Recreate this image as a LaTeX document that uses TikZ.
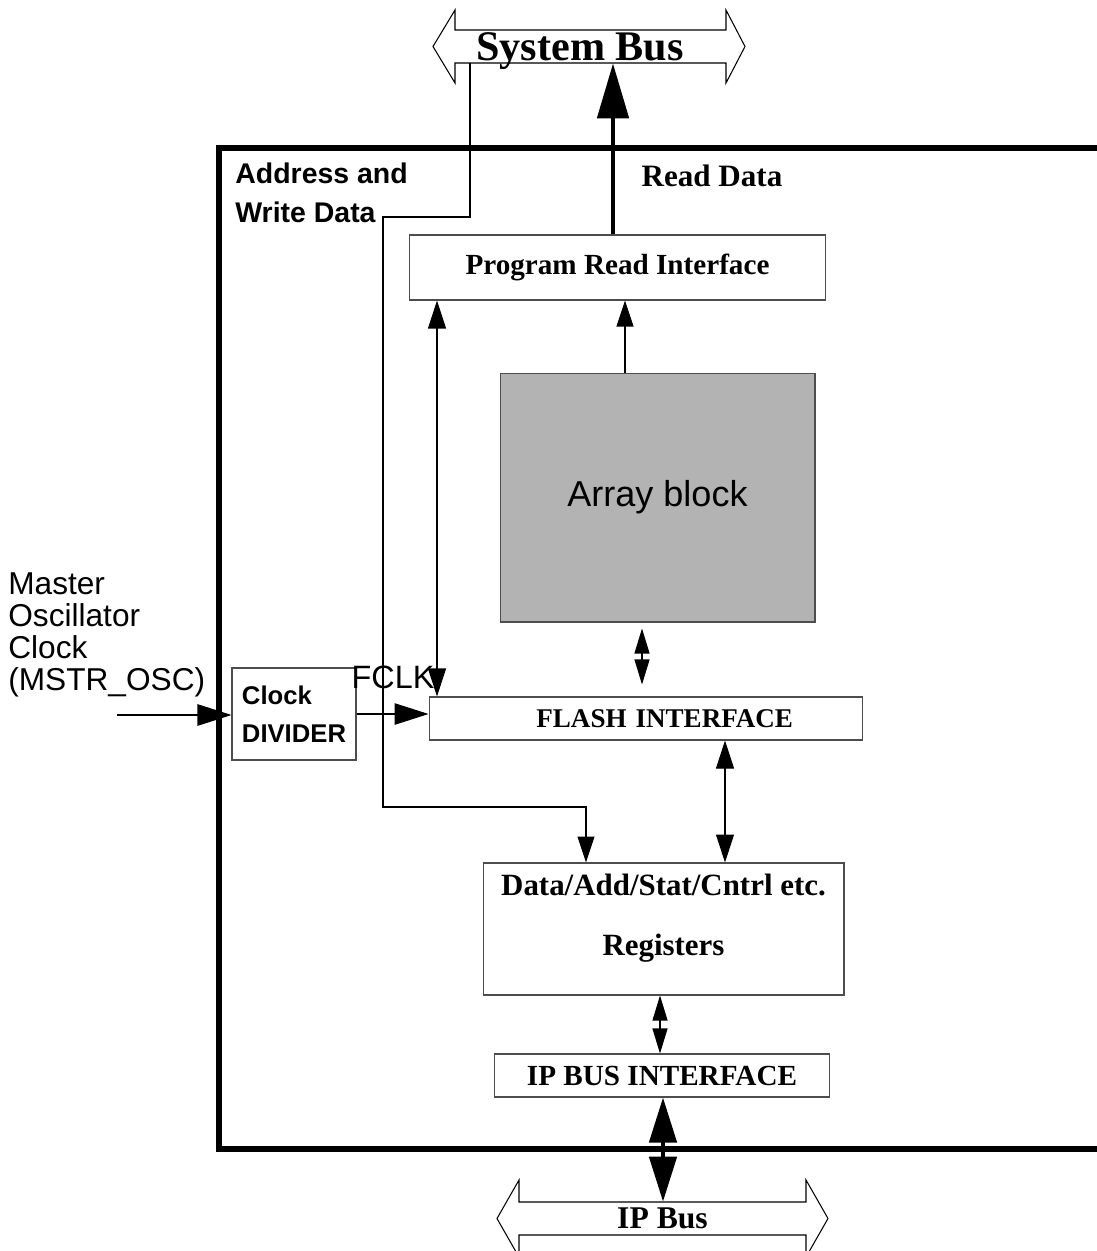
\documentclass[tikz,border=0pt]{standalone}
\usepackage{fontspec}
\setmainfont{Liberation Serif}
\setsansfont{Liberation Sans}
\usetikzlibrary{arrows.meta,positioning}
\definecolor{arraygray}{HTML}{B3B3B3}
\definecolor{boxline}{HTML}{4D4D4D}

\begin{document}
\begin{tikzpicture}[
    x=0.02cm, y=-0.02cm,
    box/.style={draw=boxline, line width=0.6pt, fill=white, inner sep=0pt, align=center},
    busfont/.style={font=\bfseries\fontsize{24}{28}\selectfont},
    boxfont/.style={font=\bfseries\fontsize{16.6}{20}\selectfont},
    sansbold/.style={font=\sffamily\bfseries\fontsize{16.2}{22}\selectfont},
    thinarrow/.style={line width=0.6pt, -{Triangle[length=0.52cm, width=0.34cm]}},
    thinboth/.style={line width=0.6pt, {Triangle[length=0.56cm, width=0.36cm]}-{Triangle[length=0.56cm, width=0.36cm]}},
    shortboth/.style={line width=0.6pt, {Triangle[length=0.5cm, width=0.3cm]}-{Triangle[length=0.5cm, width=0.3cm]}},
    clockarrow/.style={line width=0.6pt, -{Triangle[length=0.68cm, width=0.43cm]}},
    readarrow/.style={line width=2.8pt, -{Triangle[length=1.1cm, width=0.62cm]}},
    ipboth/.style={line width=2.6pt, {Triangle[length=0.9cm, width=0.54cm]}-{Triangle[length=0.9cm, width=0.54cm]}},
    frame/.style={line width=3.4pt},
    bus/.style={draw, line width=0.6pt, fill=white}
]
\useasboundingbox (0,0) rectangle (1096,1251);

% outer block (right side runs off the page)
\draw[frame] (1110,148) -| (219,1149) -- (1110,1149);

% buses
\draw[bus] (433,46.5) -- (455,10) -- (455,30) -- (726,30) -- (726,10) -- (745,46.5)
  -- (726,83) -- (726,63) -- (455,63) -- (455,83) -- cycle;
\node[busfont, inner sep=0pt, minimum width=5.42cm, text height=0.6cm, text depth=0.06cm] (sysbus) at (580,46.5) {System Bus};
\draw[bus] (497,1218.5) -- (519,1180) -- (519,1202) -- (806,1202) -- (806,1180) -- (828,1218.5)
  -- (806,1257) -- (806,1235) -- (519,1235) -- (519,1257) -- cycle;
\node[busfont, font=\bfseries\fontsize{18}{20}\selectfont, inner sep=0pt, minimum width=5.74cm, text height=0.52cm, text depth=0.14cm] (ipbus) at (662.5,1218.5) {IP Bus};

% blocks
\node[box, boxfont, minimum width=8.34cm, minimum height=1.3cm] (pri) at (617.5,267.5) {Program Read Interface};
\node[box, fill=arraygray, minimum width=6.3cm, minimum height=4.98cm, font=\sffamily\fontsize{20.5}{24}\selectfont] (array) at (657.5,497.5) {Array block};
\node[box, align=right, inner xsep=1.4cm, text width=5.88cm, minimum height=0.86cm, font=\bfseries\fontsize{15.4}{18}\selectfont] (flash) at (646,718.5) {FLASH INTERFACE};
\node[box, minimum width=7.22cm, minimum height=2.64cm] (regs) at (663.5,929) {};
\node[font=\bfseries\fontsize{17.6}{21}\selectfont, align=center] (regstext) at (663.5,918) {Data/Add/Stat/Cntrl etc.\\[13pt]Registers};
\node[box, boxfont, minimum width=6.7cm, minimum height=0.86cm] (ipif) at (662,1075.5) {IP BUS INTERFACE};
\node[box, align=left, minimum width=2.48cm, minimum height=1.84cm, font=\sffamily\bfseries\fontsize{14.6}{21.5}\selectfont] (clkdiv) at (294,714) {Clock\\DIVIDER};

% labels
\node[font=\bfseries\fontsize{17.7}{21}\selectfont] (readlbl) at (712,176) {Read Data};
\node[sansbold, anchor=west, align=left, inner sep=0pt] (awlbl) at (235,192.5) {Address and\\Write Data};
\node[font=\sffamily\fontsize{18}{18.2}\selectfont, anchor=west, align=left, inner sep=0pt] (osclbl) at (8,635) {Master\\Oscillator\\Clock\\(MSTR\_OSC)};
\node[font=\sffamily\fontsize{18.4}{20}\selectfont, inner sep=0pt] (fclk) at (393,677) {FCLK};

% connectors
\coordinate (rdx) at (613,0);
\coordinate (awx) at (470,217);
\coordinate (awy) at (383,807);
\coordinate (awz) at (586,0);
\coordinate (fx) at (437,0);
\coordinate (ax) at (625,0);
\coordinate (afx) at (642,0);
\coordinate (frx) at (725,0);
\coordinate (rix) at (660,0);
\coordinate (ipx) at (663,0);
\coordinate (oscin) at (117,715);

\draw[readarrow] (pri.north -| rdx) -- (sysbus.south -| rdx);
\draw[thinarrow] (sysbus.south -| awx) -- (awx) -| (awy) -| (regs.north -| awz);
\draw[thinboth] (pri.south -| fx) -- (flash.north -| fx);
\draw[thinarrow] (array.north -| ax) -- (pri.south -| ax);
\draw[shortboth, shorten <=0.12cm, shorten >=0.24cm] (array.south -| afx) -- (flash.north -| afx);
\draw[thinboth] (flash.south -| frx) -- (regs.north -| frx);
\draw[shortboth] (regs.south -| rix) -- (ipif.north -| rix);
\draw[ipboth] (ipif.south -| ipx) -- (ipbus.north -| ipx);
\draw[clockarrow] (oscin) -- (oscin -| clkdiv.west);
\draw[clockarrow] (clkdiv.east) -- (clkdiv.east -| flash.west);
\end{tikzpicture}
\end{document}
